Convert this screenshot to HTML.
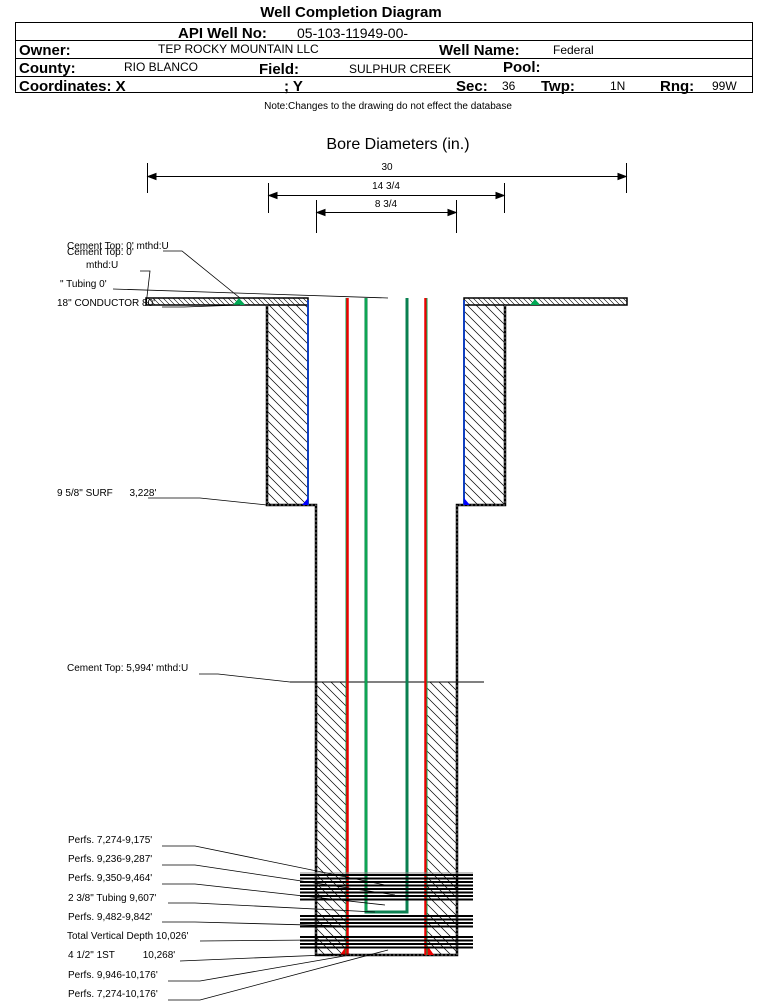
<!DOCTYPE html>
<html><head><style>
body{margin:0;background:#fff;width:759px;height:1001px;overflow:hidden;font-family:"Liberation Sans",Arial,sans-serif}
</style></head><body>
<svg width="759" height="1001" xmlns="http://www.w3.org/2000/svg" font-family="Liberation Sans, Arial, sans-serif">
<defs>
<pattern id="h" width="9" height="9" patternUnits="userSpaceOnUse">
<path d="M-2,-2 L11,11 M-2,7 L2,11 M7,-2 L11,2" stroke="#000" stroke-width="0.7"/>
</pattern>
<pattern id="h2" width="5" height="5" patternUnits="userSpaceOnUse">
<path d="M-1,-1 L6,6 M-1,4 L1,6 M4,-1 L6,1" stroke="#000" stroke-width="0.6"/>
</pattern>
</defs>
<!-- header -->
<text x="351" y="17" font-size="15" font-weight="bold" text-anchor="middle">Well Completion Diagram</text>
<rect x="15.5" y="22.5" width="737" height="70" fill="none" stroke="#000"/>
<line x1="15" y1="40.5" x2="752" y2="40.5" stroke="#000"/>
<line x1="15" y1="58.5" x2="752" y2="58.5" stroke="#000"/>
<line x1="15" y1="76.5" x2="752" y2="76.5" stroke="#000"/>
<g font-size="15" font-weight="bold">
<text x="178" y="38">API Well No:</text>
<text x="19" y="55">Owner:</text>
<text x="439" y="55">Well Name:</text>
<text x="19" y="73">County:</text>
<text x="259" y="74">Field:</text>
<text x="503" y="72">Pool:</text>
<text x="19" y="91">Coordinates: X</text>
<text x="284" y="91">; Y</text>
<text x="456" y="91">Sec:</text>
<text x="541" y="91">Twp:</text>
<text x="660" y="91">Rng:</text>
</g>
<g font-size="12">
<text x="297" y="38" font-size="14">05-103-11949-00-</text>
<text x="158" y="53">TEP ROCKY MOUNTAIN LLC</text>
<text x="553" y="54">Federal</text>
<text x="124" y="71">RIO BLANCO</text>
<text x="349" y="73">SULPHUR CREEK</text>
<text x="502" y="90">36</text>
<text x="610" y="90">1N</text>
<text x="712" y="90">99W</text>
</g>
<text x="388" y="109" font-size="10" text-anchor="middle">Note:Changes to the drawing do not effect the database</text>
<text x="398" y="149" font-size="16" text-anchor="middle">Bore Diameters (in.)</text>
<!-- dimensions -->
<g stroke="#000" stroke-width="1" fill="#000" font-size="10">
<line x1="147.5" y1="163" x2="147.5" y2="193"/><line x1="626.5" y1="163" x2="626.5" y2="193"/>
<line x1="148" y1="176.5" x2="626" y2="176.5"/>
<path d="M148,176.5 l8,-3 v6z M626,176.5 l-8,-3 v6z"/>
<line x1="268.5" y1="183" x2="268.5" y2="213"/><line x1="504.5" y1="183" x2="504.5" y2="213"/>
<line x1="269" y1="195.5" x2="504" y2="195.5"/>
<path d="M269,195.5 l8,-3 v6z M504,195.5 l-8,-3 v6z"/>
<line x1="316.5" y1="200" x2="316.5" y2="233"/><line x1="456.5" y1="200" x2="456.5" y2="233"/>
<line x1="317" y1="212.5" x2="456" y2="212.5"/>
<path d="M317,212.5 l8,-3 v6z M456,212.5 l-8,-3 v6z"/>
</g>
<g font-size="10" text-anchor="middle">
<text x="387" y="170">30</text><text x="386" y="189">14 3/4</text><text x="386" y="207">8 3/4</text>
</g>
<!-- conductor plates -->
<rect x="146" y="298" width="162" height="7" fill="url(#h2)" stroke="#000" stroke-width="1.5"/>
<rect x="464" y="298" width="163" height="7" fill="url(#h2)" stroke="#000" stroke-width="1.5"/>
<!-- surface cement -->
<rect x="267" y="305" width="41" height="200" fill="url(#h)"/>
<rect x="464" y="305" width="41" height="200" fill="url(#h)"/>
<path d="M267,305 V505 H316 V955 H457 V505 H505 V305" fill="none" stroke="#000" stroke-width="2.5"/>
<path d="M267,305 V505 H316 V955 H457 V505 H505 V305" fill="none" stroke="#999" stroke-width="0.8" stroke-dasharray="2,2"/>
<line x1="308" y1="300" x2="308" y2="505" stroke="#1040c0" stroke-width="2"/>
<line x1="464" y1="300" x2="464" y2="505" stroke="#1040c0" stroke-width="2"/>
<path d="M302,505 L308,498 V505Z M464,498 L470,505 H464Z" fill="#0000ff"/>
<path d="M233,305 l6,-7 l6,7z M530,305 l5,-6 l5,6z" fill="#0a5"/>
<!-- production cement -->
<rect x="317" y="682" width="30" height="272" fill="url(#h)"/>
<rect x="427" y="682" width="29" height="272" fill="url(#h)"/>
<line x1="290" y1="682" x2="484" y2="682" stroke="#000"/>
<path d="M340,955 L347,945 V955Z M427,945 L434,955 H427Z" fill="#e00"/>
<!-- casing 4.5 -->
<line x1="346" y1="298" x2="346" y2="955" stroke="#0a5" stroke-width="1"/>
<line x1="347.5" y1="298" x2="347.5" y2="955" stroke="#e00" stroke-width="2.5"/>
<line x1="425.5" y1="298" x2="425.5" y2="955" stroke="#e00" stroke-width="2.5"/>
<line x1="427" y1="298" x2="427" y2="955" stroke="#0a5" stroke-width="1"/>
<!-- tubing -->
<path d="M366,298 V912 H407 V298" fill="none" stroke="#0a8050" stroke-width="3"/>
<line x1="366" y1="298" x2="366" y2="912" stroke="#1c5" stroke-width="1"/>
<!-- perf bands -->
<g stroke="#000" stroke-width="2">
<line x1="300" y1="875" x2="473" y2="875"/><line x1="300" y1="878.5" x2="473" y2="878.5"/>
<line x1="300" y1="882" x2="473" y2="882"/><line x1="300" y1="885.5" x2="473" y2="885.5"/>
<line x1="300" y1="889" x2="473" y2="889"/><line x1="300" y1="892.5" x2="473" y2="892.5"/>
<line x1="300" y1="896" x2="473" y2="896"/><line x1="300" y1="899.5" x2="473" y2="899.5"/>
<line x1="300" y1="916" x2="473" y2="916"/><line x1="300" y1="919.5" x2="473" y2="919.5"/>
<line x1="300" y1="923" x2="473" y2="923"/><line x1="300" y1="926.5" x2="473" y2="926.5"/>
<line x1="300" y1="937" x2="473" y2="937"/><line x1="300" y1="940.5" x2="473" y2="940.5"/>
<line x1="300" y1="944" x2="473" y2="944"/><line x1="300" y1="947.5" x2="473" y2="947.5"/>
</g>
<line x1="300" y1="873" x2="473" y2="873" stroke="#888"/>
<!-- labels -->
<g font-size="10">
<text x="67" y="249">Cement Top: 0' mthd:U</text>
<text x="67" y="255">Cement Top: 0'</text>
<text x="86" y="268">mthd:U</text>
<text x="60" y="287">" Tubing 0'</text>
<text x="57" y="306">18" CONDUCTOR 80'</text>
<text x="57" y="496">9 5/8" SURF&#160;&#160;&#160;&#160;&#160;&#160;3,228'</text>
<text x="67" y="671">Cement Top: 5,994' mthd:U</text>
<text x="68" y="843">Perfs. 7,274-9,175'</text>
<text x="68" y="862">Perfs. 9,236-9,287'</text>
<text x="68" y="881">Perfs. 9,350-9,464'</text>
<text x="68" y="901">2 3/8" Tubing 9,607'</text>
<text x="68" y="920">Perfs. 9,482-9,842'</text>
<text x="67" y="939">Total Vertical Depth 10,026'</text>
<text x="68" y="958">4 1/2" 1ST&#160;&#160;&#160;&#160;&#160;&#160;&#160;&#160;&#160;&#160;10,268'</text>
<text x="68" y="978">Perfs. 9,946-10,176'</text>
<text x="68" y="997">Perfs. 7,274-10,176'</text>
</g>
<g stroke="#000" stroke-width="0.8" fill="none">
<path d="M163,251 H182 L240,298"/>
<path d="M140,271 H150 L146,305"/>
<path d="M113,289 L388,298"/>
<path d="M162,307 H184 L240,305"/>
<path d="M148,498 H200 L267,505"/>
<path d="M199,674 H218 L290,682"/>
<path d="M162,846 H195 L385,885"/>
<path d="M162,865 H195 L395,895"/>
<path d="M162,884 H195 L385,905"/>
<path d="M168,903 H195 L375,912"/>
<path d="M162,922 H195 L385,927"/>
<path d="M200,941 L316,940"/>
<path d="M180,961 L350,954"/>
<path d="M168,981 H200 L350,955"/>
<path d="M168,1000 H200 L388,950"/>
</g>
</svg>
</body></html>
